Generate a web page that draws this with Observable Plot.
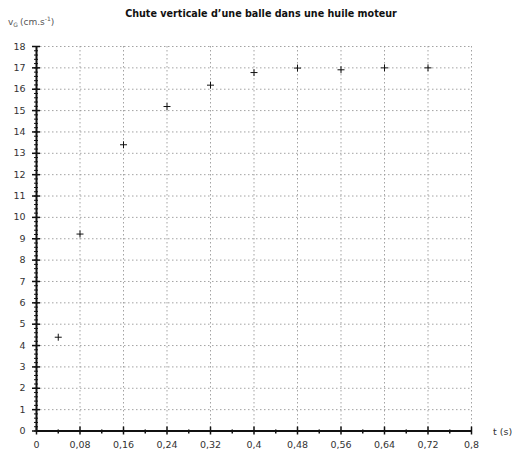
<!DOCTYPE html>
<html><head><meta charset="utf-8">
<script src="https://cdn.jsdelivr.net/npm/d3@7"></script>
<script src="https://cdn.jsdelivr.net/npm/@observablehq/plot@0.6"></script>
<style>body{margin:0;overflow:hidden;background:#fff}</style>
</head><body><div id="chart"></div>
<script>
const titleText = "Chute verticale d’une balle dans une huile moteur";
const times = [0.04, 0.08, 0.16, 0.24, 0.32, 0.40, 0.48, 0.56, 0.64, 0.72];
const speeds = [4.39, 9.22, 13.40, 15.19, 16.19, 16.78, 16.99, 16.91, 17.00, 17.00];
const xTicks = [0, 0.08, 0.16, 0.24, 0.32, 0.4, 0.48, 0.56, 0.64, 0.72, 0.8];
const xTickLabels = ["0", "0,08", "0,16", "0,24", "0,32", "0,4", "0,48", "0,56", "0,64", "0,72", "0,8"];
const xMinor = [0.04, 0.12, 0.20, 0.28, 0.36, 0.44, 0.52, 0.60, 0.68, 0.76];
const yTicks = [0,1,2,3,4,5,6,7,8,9,10,11,12,13,14,15,16,17,18];
const yTickLabels = yTicks.map(String);
const yMinor = d3.range(0, 90).map(i => i / 5);

const data = times.map((t, i) => ({t, v: speeds[i]}));
const xLab = new Map(xTicks.map((t, i) => [t, xTickLabels[i]]));
const yLab = new Map(yTicks.map((t, i) => [t, yTickLabels[i]]));

const plusSymbol = {
  draw(context, size) {
    const r = Math.sqrt(size / Math.PI);
    context.moveTo(-r, 0); context.lineTo(r, 0);
    context.moveTo(0, -r); context.lineTo(0, r);
  }
};

const gridStyle = {stroke: "#999", strokeOpacity: 0.9, strokeDasharray: "1.5,2.5", strokeWidth: 1};
const noText = () => "";

const chart = Plot.plot({
  width: 514, height: 452,
  marginLeft: 36, marginRight: 43, marginTop: 46, marginBottom: 21.5,
  style: {fontFamily: "'DejaVu Sans', Verdana, sans-serif", fontSize: "9.5px", background: "#fff", color: "#333"},
  x: {domain: [0, 0.8]},
  y: {domain: [0, 18]},
  marks: [
    Plot.gridX(xTicks.slice(1), gridStyle),
    Plot.gridY(yTicks.slice(1), gridStyle),
    Plot.ruleX([0], {stroke: "#111", strokeWidth: 2}),
    Plot.ruleY([0], {stroke: "#111", strokeWidth: 2}),
    Plot.axisY(yMinor, {anchor: "left", tickSize: 4, dx: 2, stroke: "#111", strokeWidth: 1, tickFormat: noText, label: null}),
    Plot.axisY(yTicks, {anchor: "left", tickSize: 8, dx: 4, stroke: "#111", strokeWidth: 1.5, tickFormat: noText, label: null}),
    Plot.axisY(yTicks, {anchor: "left", tickSize: 0, tickPadding: 11, tickFormat: d => yLab.get(d), fill: "#333", label: null}),
    Plot.axisX(xMinor, {anchor: "bottom", tickSize: 4, dy: -1, stroke: "#111", strokeWidth: 1.5, tickFormat: noText, label: null}),
    Plot.axisX(xTicks, {anchor: "bottom", tickSize: 8, dy: -4, stroke: "#111", strokeWidth: 1.5, tickFormat: noText, label: null}),
    Plot.axisX(xTicks, {anchor: "bottom", tickSize: 0, tickPadding: 10.5, tickFormat: d => xLab.get(d), fill: "#333", label: null}),
    Plot.dot(data, {x: "t", y: "v", symbol: plusSymbol, r: 3.5, stroke: "#111", fill: "none", strokeWidth: 1})
  ]
});

const svg = d3.select(chart);
svg.append("text")
  .attr("x", 261).attr("y", 17).attr("text-anchor", "middle")
  .attr("font-weight", "bold").attr("font-size", 9.6).attr("fill", "#111")
  .text(titleText);
const yl = svg.append("text").attr("x", 8).attr("y", 25).attr("text-anchor", "start")
  .attr("font-size", 9).attr("fill", "#555");
yl.append("tspan").text("v");
yl.append("tspan").attr("font-size", 6).attr("dy", 2).text("G");
yl.append("tspan").attr("dy", -2).attr("dx", 2).text("(cm.s");
yl.append("tspan").attr("font-size", 6).attr("dy", -4).text("-1");
yl.append("tspan").attr("dy", 4).text(")");
svg.append("text").attr("x", 493).attr("y", 435).attr("text-anchor", "start")
  .attr("font-size", 9.5).attr("fill", "#333").text("t (s)");

document.getElementById("chart").appendChild(chart);
</script>
</body></html>
